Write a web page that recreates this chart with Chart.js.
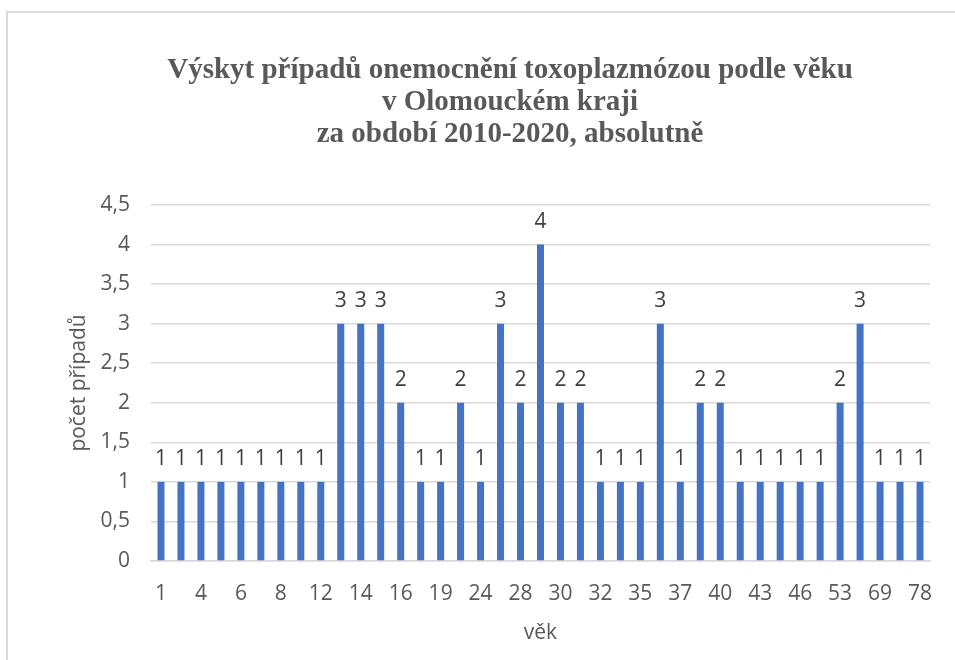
<!DOCTYPE html>
<html>
<head>
<meta charset="utf-8">
<script src="https://cdn.jsdelivr.net/npm/chart.js@4.4.1/dist/chart.umd.min.js"></script>
<style>
    body { margin: 0; background: #fff; }
    #wrap { position: relative; width: 955px; height: 660px; overflow: hidden; }
    #frame { position: absolute; left: 6px; top: 11px; width: 1000px; height: 700px;
             border-left: 2px solid #d9d9d9; border-top: 2px solid #d9d9d9; }
    #title { position: absolute; left: 110px; width: 800px; top: 52px; text-align: center;
             font-family: "Liberation Serif", serif; font-weight: bold; font-size: 29px;
             line-height: 32px; color: #595959; }
    canvas { position: absolute; left: 0; top: 0; }
</style>
</head>
<body>
<div id="wrap">
    <div id="frame"></div>
    <canvas id="vekChart" width="955" height="660"></canvas>
    <div id="title">Výskyt případů onemocnění toxoplazmózou podle věku<br>v Olomouckém kraji<br>za období 2010-2020, absolutně</div>
</div>
<script>
// vek (jen kazdy druhy je popsany na ose)
const vek = ["1", "2", "4", "5", "6", "7", "8", "10", "12", "13", "14", "15", "16", "17", "19", "21",
    "24", "26", "28", "29", "30", "31", "32", "33", "35", "36", "37", "38", "40", "41", "43", "44",
    "46", "50", "53", "56", "69", "74", "78"];
const pocetPripadu = [1, 1, 1, 1, 1, 1, 1, 1, 1, 3, 3, 3, 2, 1, 1, 2,
    1, 3, 2, 4, 2, 2, 1, 1, 1, 3, 1, 2, 2, 1, 1, 1,
    1, 1, 2, 3, 1, 1, 1];
const yTicks = [0, 0.5, 1, 1.5, 2, 2.5, 3, 3.5, 4, 4.5];

const labelFont = "'Open Sans', sans-serif";

// popisky hodnot nad sloupci
const hodnotyPlugin = {
    id: "hodnoty",
    afterDatasetsDraw(chart) {
        const ctx = chart.ctx;
        const meta = chart.getDatasetMeta(0);
        ctx.save();
        ctx.font = "21px " + labelFont;
        ctx.fillStyle = "#404040";
        ctx.textAlign = "center";
        ctx.textBaseline = "alphabetic";
        meta.data.forEach((bar, i) => {
            ctx.fillText(String(pocetPripadu[i]), bar.x, bar.y - 17);
        });
        ctx.restore();
    }
};

new Chart("vekChart", {
    type: "bar",
    data: {
        labels: vek,
        datasets: [{
            data: pocetPripadu,
            backgroundColor: "#4472C4",
            barPercentage: 0.7,
            categoryPercentage: 0.5
        }]
    },
    options: {
        responsive: false,
        animation: false,
        layout: {
            padding: { left: 58, right: 25, top: 205, bottom: 0 }
        },
        plugins: {
            legend: { display: false },
            tooltip: { enabled: false }
        },
        scales: {
            x: {
                grid: { display: false, drawTicks: false },
                border: { display: true, color: "#d9d9d9", width: 1.5 },
                ticks: {
                    autoSkip: false,
                    maxRotation: 0,
                    padding: 20,
                    color: "#595959",
                    font: { family: labelFont, size: 21 },
                    callback: function (value, index) {
                        return index % 2 === 0 ? vek[index] : "";
                    }
                },
                title: {
                    display: true,
                    text: "věk",
                    color: "#595959",
                    font: { family: labelFont, size: 21 },
                    padding: { top: 0, bottom: 14 }
                },
                afterFit: function (scale) { scale.height = 99; }
            },
            y: {
                min: 0,
                max: 4.5,
                afterBuildTicks: function (scale) {
                    scale.ticks = yTicks.map(v => ({ value: v }));
                },
                grid: { color: "#d9d9d9", lineWidth: 1.5, drawTicks: false },
                border: { display: false },
                ticks: {
                    padding: 21,
                    color: "#595959",
                    font: { family: labelFont, size: 21 },
                    callback: function (value) { return String(value).replace(".", ","); }
                },
                title: {
                    display: true,
                    text: "počet případů",
                    color: "#595959",
                    font: { family: labelFont, size: 21 },
                    padding: { top: 8, bottom: 0 }
                },
                afterFit: function (scale) { scale.width = 93; }
            }
        }
    },
    plugins: [hodnotyPlugin]
});
</script>
</body>
</html>
